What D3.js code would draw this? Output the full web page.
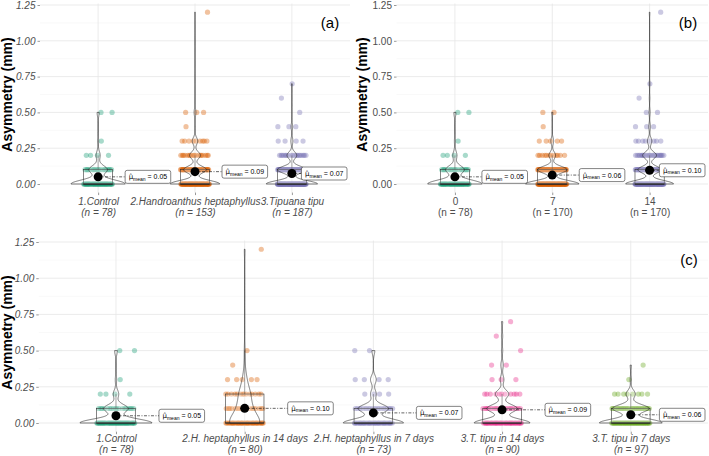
<!DOCTYPE html>
<html>
<head>
<meta charset="utf-8">
<script src="https://cdn.jsdelivr.net/npm/d3@7"></script>
<style>
  body { margin: 0; background: #fff; }
  text { font-family: "Liberation Sans", Arial, sans-serif; }
</style>
</head>
<body>
<svg id="chart" width="709" height="456"></svg>
<script>
// Asymmetry values (mm) that occur, and how many leaves of each group have them
var asymValues = [0, 0.1, 0.2, 0.3, 0.4, 0.5, 0.6, 0.7, 1.2];
var countsControl = [53, 18, 4, 1, 0, 2, 0, 0, 0];
var countsH14 = [41, 17, 14, 5, 1, 1, 0, 0, 1];
var countsH7 = [42, 21, 4, 4, 0, 2, 0, 0, 0];
var countsT14 = [46, 25, 11, 3, 2, 1, 1, 1, 0];
var countsT7 = [55, 32, 8, 1, 1, 0, 0, 0, 0];

// category labels for the three panels
var catsA = ["1.Control", "2.Handroanthus heptaphyllus", "3.Tipuana tipu"];
var catsB = ["0", "7", "14"];
var catsC = ["1.Control", "2.H. heptaphyllus in 14 days", "2.H. heptaphyllus in 7 days",
  "3.T. tipu in 14 days", "3.T. tipu in 7 days"];

var yTicks = [0, 0.25, 0.5, 0.75, 1, 1.25];
var yMinor = [0.125, 0.375, 0.625, 0.875, 1.125];
var palette = ["#1B9E77", "#D95F02", "#7570B3", "#E7298A", "#66A61E"];

var svg = d3.select("#chart");
var fmt2 = d3.format(".2f");

// panel settings (pixel layout)
var panels = [
  { tag: "(a)", cats: catsA, groups: [[countsControl], [countsH14, countsH7], [countsT14, countsT7]],
    left: 40, right: 350, y0: 184, y125: 5, italic: true, labelGap: 27,
    titleX: 12, tagX: 330, tagY: 28, lab1: 12, lab2: 23 },
  { tag: "(b)", cats: catsB, groups: [[countsControl], [countsH7, countsT7], [countsH14, countsT14]],
    left: 396.5, right: 708, y0: 184, y125: 5, italic: false, labelGap: 27,
    titleX: 367, tagX: 688, tagY: 28, lab1: 12, lab2: 23 },
  { tag: "(c)", cats: catsC, groups: [[countsControl], [countsH14], [countsH7], [countsT14], [countsT7]],
    left: 38.75, right: 708, y0: 423, y125: 242, italic: true, labelGap: 43,
    titleX: 12, tagX: 689, tagY: 265, lab1: 10.8, lab2: 21.8 }
];

// turn count lists into sorted values
function expand(countLists) {
  var vals = [];
  countLists.forEach(function(counts) {
    counts.forEach(function(c, i) {
      for (var k = 0; k < c; k++) vals.push(asymValues[i]);
    });
  });
  return vals.sort(d3.ascending);
}

// gaussian kernel density with R's nrd0 bandwidth, trimmed to data range
function kde(vals) {
  var n = vals.length;
  var sd = d3.deviation(vals);
  var iqr = d3.quantile(vals, 0.75) - d3.quantile(vals, 0.25);
  var lo = Math.min(sd, iqr / 1.34);
  if (!(lo > 0)) lo = sd;
  var bw = 0.9 * lo * Math.pow(n, -0.2);
  var mn = vals[0], mx = vals[n - 1];
  var bins = d3.rollups(vals, v => v.length, d => d);
  return d3.range(512).map(function(i) {
    var y = mn + (mx - mn) * i / 511;
    var s = 0;
    bins.forEach(function(b) {
      var z = (y - b[0]) / bw;
      s += b[1] * Math.exp(-0.5 * z * z);
    });
    return [y, s / (n * bw * Math.sqrt(2 * Math.PI))];
  });
}

panels.forEach(function(p, pi) {
  var y = d3.scaleLinear().domain([0, 1.25]).range([p.y0, p.y125]);
  var x = d3.scalePoint().domain(p.cats).range([p.left, p.right]).padding(0.6);
  var step = x.step();
  var top = y(1.26), bottom = y(-0.06);
  var colors = pi === 0 || pi === 1 ? palette.slice(0, 3) : palette;

  var g = svg.append("g");

  // grid
  g.selectAll(".minor").data(yMinor).enter().append("line")
    .attr("x1", p.left).attr("x2", p.right)
    .attr("y1", d => y(d)).attr("y2", d => y(d))
    .attr("stroke", "#F2F2F2").attr("stroke-width", 0.5);
  g.selectAll(".major").data(yTicks).enter().append("line")
    .attr("x1", p.left).attr("x2", p.right)
    .attr("y1", d => y(d)).attr("y2", d => y(d))
    .attr("stroke", "#E6E6E6").attr("stroke-width", 0.8);
  g.selectAll(".vgrid").data(p.cats).enter().append("line")
    .attr("x1", d => x(d)).attr("x2", d => x(d))
    .attr("y1", top).attr("y2", bottom)
    .attr("stroke", "#E6E6E6").attr("stroke-width", 0.8);

  // axes
  var yAxis = g.append("g")
    .attr("transform", `translate(${p.left}, 0)`)
    .call(d3.axisLeft(y).tickValues(yTicks).tickFormat(fmt2).tickSize(2.5).tickPadding(2));
  yAxis.select(".domain").remove();
  yAxis.selectAll(".tick line").attr("stroke", "#333").attr("stroke-width", 0.5);
  yAxis.selectAll(".tick text")
    .attr("font-size", 10).attr("fill", "#4D4D4D")
    .attr("font-style", p.italic ? "italic" : "normal")
    .attr("font-family", "Liberation Sans, Arial, sans-serif");

  var data = p.groups.map(expand);

  var xAxis = g.append("g")
    .attr("transform", `translate(0, ${bottom})`)
    .call(d3.axisBottom(x).tickSize(2.5));
  xAxis.select(".domain").remove();
  xAxis.selectAll(".tick line").attr("stroke", "#333").attr("stroke-width", 0.5);
  xAxis.selectAll(".tick text")
    .text(null).attr("dy", null).attr("y", null)
    .attr("font-size", 10).attr("fill", "#4D4D4D")
    .attr("font-style", p.italic ? "italic" : "normal")
    .attr("font-family", "Liberation Sans, Arial, sans-serif")
    .each(function(d, i) {
      var t = d3.select(this);
      t.append("tspan").attr("x", 0).attr("y", p.lab1).text(d);
      t.append("tspan").attr("x", 0).attr("y", p.lab2).text("(n = " + data[i].length + ")");
    });

  // y title
  svg.append("text")
    .attr("transform", `translate(${p.titleX}, ${(p.y0 + p.y125) / 2}) rotate(-90)`)
    .attr("text-anchor", "middle")
    .attr("font-size", 14).attr("font-weight", "bold").attr("fill", "#000")
    .text("Asymmetry (mm)");

  // panel tag
  svg.append("text")
    .attr("x", p.tagX).attr("y", p.tagY)
    .attr("text-anchor", "middle").attr("font-size", 15).attr("fill", "#000")
    .text(p.tag);

  // jittered points
  var pts = g.append("g");
  data.forEach(function(vals, gi) {
    var cx = x(p.cats[gi]);
    var bins = d3.rollups(vals, v => v.length, d => d);
    bins.forEach(function(b, bi) {
      for (var j = 0; j < b[1]; j++) {
        var u = (0.5 + j * 0.6180339887 + bi * 0.37 + gi * 0.21) % 1;
        pts.append("circle")
          .attr("cx", cx + (u - 0.5) * 0.3 * step)
          .attr("cy", y(b[0]))
          .attr("r", 2.6)
          .attr("fill", colors[gi])
          .attr("fill-opacity", 0.38);
      }
    });
  });

  // boxplots
  data.forEach(function(vals, gi) {
    var cx = x(p.cats[gi]);
    var q1 = d3.quantile(vals, 0.25), med = d3.quantile(vals, 0.5), q3 = d3.quantile(vals, 0.75);
    var iqr = q3 - q1;
    var hi = d3.max(vals.filter(v => v <= q3 + 1.5 * iqr));
    var lo = d3.min(vals.filter(v => v >= q1 - 1.5 * iqr));
    var hw = 0.15 * step;
    g.append("line").attr("x1", cx).attr("x2", cx).attr("y1", y(q3)).attr("y2", y(hi))
      .attr("stroke", "#333").attr("stroke-width", 0.5);
    g.append("line").attr("x1", cx).attr("x2", cx).attr("y1", y(q1)).attr("y2", y(lo))
      .attr("stroke", "#333").attr("stroke-width", 0.5);
    g.append("rect")
      .attr("x", cx - hw).attr("width", 2 * hw)
      .attr("y", y(q3)).attr("height", y(q1) - y(q3))
      .attr("fill", "#fff").attr("fill-opacity", 0.2)
      .attr("stroke", "#333").attr("stroke-width", 0.6);
    g.append("line").attr("x1", cx - hw).attr("x2", cx + hw).attr("y1", y(med)).attr("y2", y(med))
      .attr("stroke", "#222").attr("stroke-width", 1.2);
  });

  // violins, scaled by area across the panel
  var dens = data.map(kde);
  var maxD = d3.max(dens, d => d3.max(d, e => e[1]));
  dens.forEach(function(dd, gi) {
    var cx = x(p.cats[gi]);
    var half = 0.28 * step;
    var right = dd.map(e => [cx + e[1] / maxD * half, y(e[0])]);
    var left = dd.slice().reverse().map(e => [cx - e[1] / maxD * half, y(e[0])]);
    g.append("path")
      .attr("d", d3.line()(right.concat(left)) + "Z")
      .attr("fill", "#fff").attr("fill-opacity", 0.2)
      .attr("stroke", "#222").attr("stroke-width", 0.6);
  });

  // means with labels
  data.forEach(function(vals, gi) {
    var cx = x(p.cats[gi]);
    var m = d3.mean(vals);
    var my = y(m);
    var lab = g.append("g");
    var txt = lab.append("text").attr("font-size", 7).attr("fill", "#000");
    txt.append("tspan").attr("font-family", "DejaVu Sans").text("\u03BC\u0302");
    txt.append("tspan").attr("font-size", 5).attr("dy", 1.5).text("mean");
    txt.append("tspan").attr("dy", -1.5).text(" = " + fmt2(m));
    var tw = txt.node().getComputedTextLength();
    var bw = tw + 7;
    var bx = cx + p.labelGap;
    if (bx + bw > p.right - 3) bx = p.right - 3 - bw;
    txt.attr("x", bx + 3.5).attr("y", my + 2.5);
    lab.insert("rect", "text")
      .attr("x", bx).attr("y", my - 6.5).attr("width", bw).attr("height", 13)
      .attr("rx", 2).attr("fill", "#fff").attr("stroke", "#333").attr("stroke-width", 0.6);
    g.append("line")
      .attr("x1", cx).attr("x2", bx).attr("y1", my).attr("y2", my)
      .attr("stroke", "#222").attr("stroke-width", 0.7)
      .attr("stroke-dasharray", "3,1.5,1,1.5");
    g.append("circle").attr("cx", cx).attr("cy", my).attr("r", 4.5).attr("fill", "#000");
    lab.raise();
  });
});
</script>
</body>
</html>
